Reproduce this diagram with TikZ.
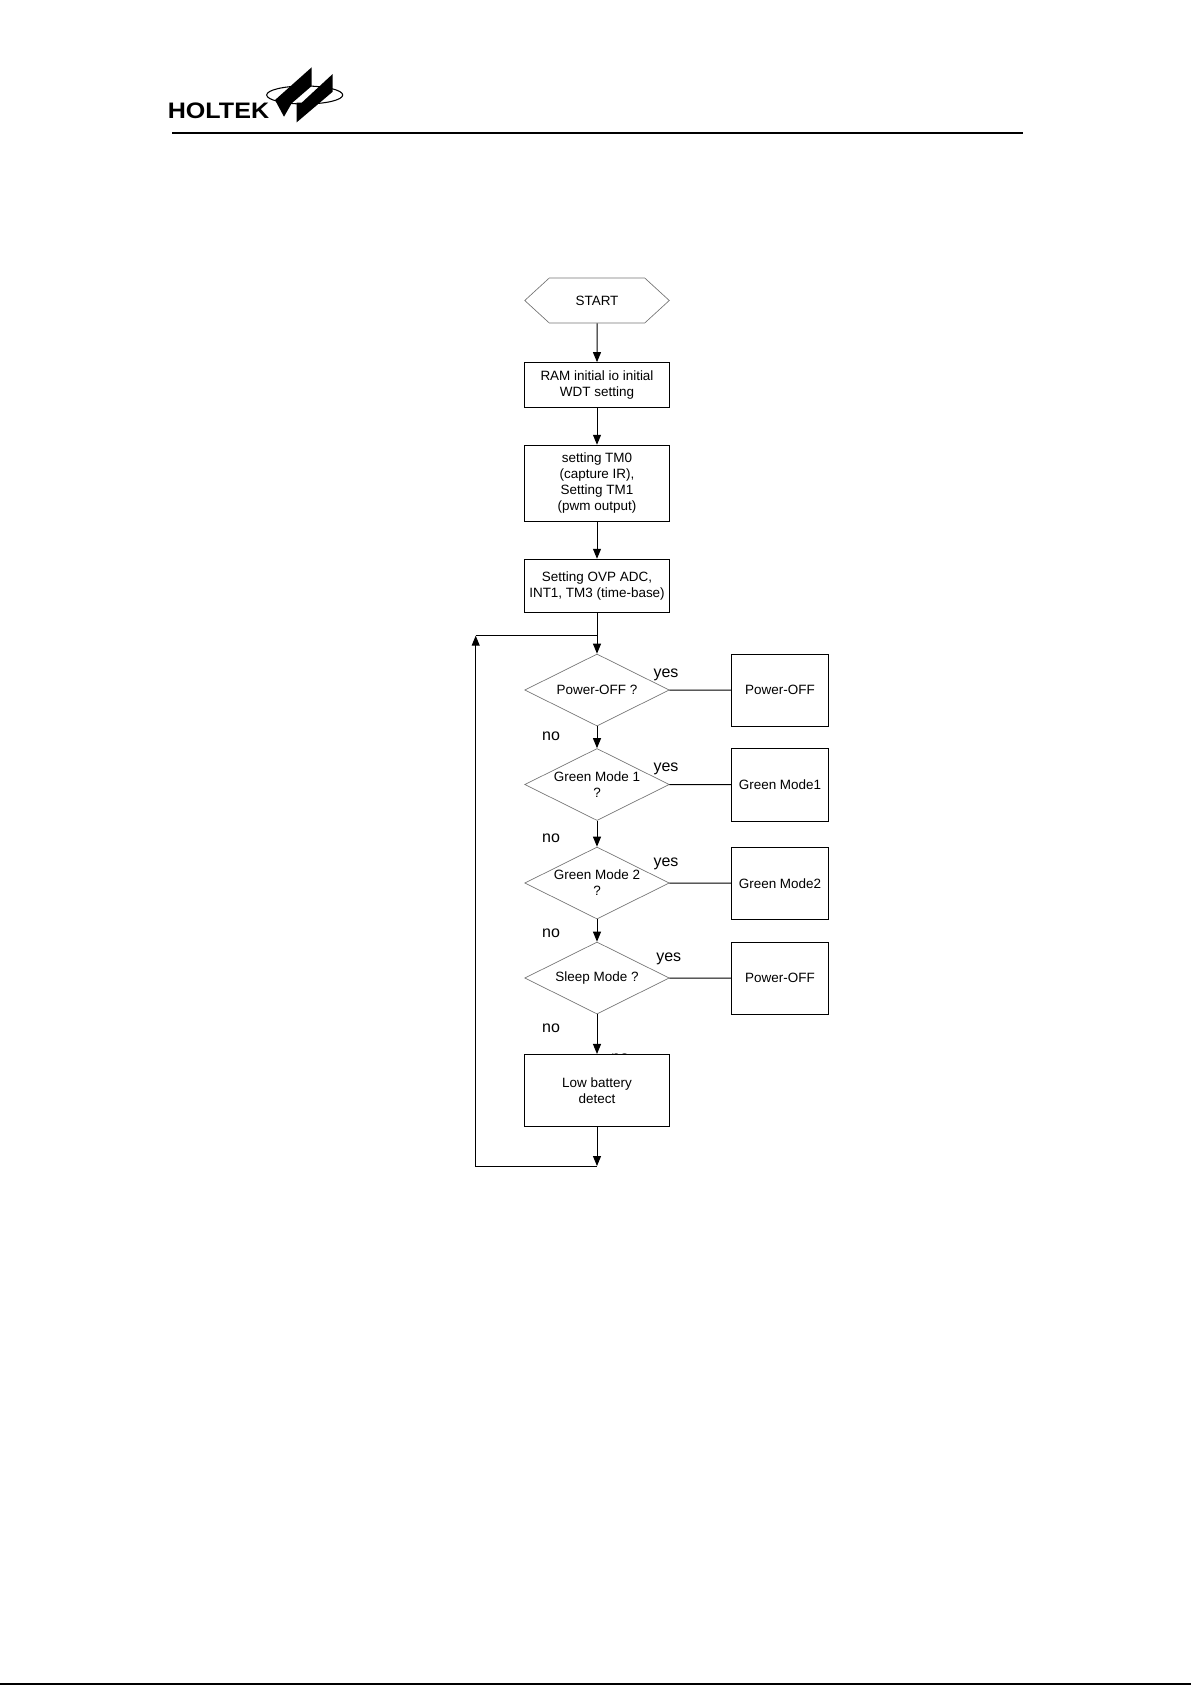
\documentclass[tikz,border=0pt]{standalone}
\usepackage{fontspec}
\setmainfont{Liberation Sans}
\usetikzlibrary{arrows.meta}
\usetikzlibrary{positioning}
\usetikzlibrary{shapes.geometric}
\usetikzlibrary{shapes.symbols}
\begin{document}
\begin{tikzpicture}[x=0.75pt,y=-0.75pt,
  every node/.style={font=\fontsize{10.1}{12}\selectfont,align=center,inner sep=0pt},
  flowbox/.style={draw,line width=0.8pt,fill=white,minimum width=108.75pt},
  sidebox/.style={draw,line width=0.8pt,minimum width=72.75pt,minimum height=54pt},
  decision/.style={draw=black!55,line width=0.5pt,diamond,aspect=2,minimum width=108.4pt,minimum height=54pt},
  terminal/.style={draw=black!55,line width=0.5pt,signal,signal to=east and west,signal pointer angle=85,minimum width=108.4pt,minimum height=33.75pt},
  answer/.style={font=\fontsize{12}{14}\selectfont},
  arrowline/.style={line width=0.75pt,-{Triangle[length=7.5pt,width=6pt]}},
  plainline/.style={line width=0.75pt}]
  \path[use as bounding box] (0,0) rectangle (1191,1685);

  \node (brand) at (218.5,110.5) {\fontsize{16.8}{18}\selectfont\bfseries\scalebox{1.12}[1]{HOLTEK}};
  \draw[line width=0.8pt] (304.7,95) ellipse [x radius=38,y radius=9];
  \fill (311.7,67.3)--(311.7,86)--(291.7,103.3)--(284,116.7)--(275,100)--cycle;
  \fill (332.7,74)--(332.7,91.7)--(296.7,122.3)--(296.7,102.7)--(301.7,102.7)--cycle;
  \draw[line width=1.5pt] (172,132.7)--(1023,132.7);
  \draw[line width=1.5pt] (0,1684)--(1191,1684);

  \node[terminal] (start) at (597,300.5) {START};
  \node[flowbox,minimum height=33.5pt] (ramio) at (597,385) {RAM initial io initial\\WDT setting};
  \node[flowbox,minimum height=57pt] (timers) at (597,483.3) {setting TM0\\(capture IR),\\Setting TM1\\(pwm output)};
  \node[flowbox,minimum height=39.75pt] (ovpadc) at (597,585.8) {Setting OVP ADC,\\INT1, TM3 (time-base)};

  \node[decision] (askoff) at (597,690) {Power-OFF ?};
  \node[decision] (askgreena) at (597,784.5) {Green Mode 1\\?};
  \node[decision] (askgreenb) at (597,883) {Green Mode 2\\?};
  \node[decision] (asksleep) at (597,978) {Sleep Mode ?};

  \node[sidebox] (poweroff) at (780,690.3) {Power-OFF};
  \node[sidebox,minimum height=54.75pt] (greena) at (780,784.8) {Green Mode1};
  \node[sidebox] (greenb) at (780,883.3) {Green Mode2};
  \node[sidebox] (sleepoff) at (780,978.3) {Power-OFF};

  \node[answer] (nohidden) at (620,1058.5) {no};
  \node[flowbox,minimum height=54pt] (lowbat) at (597,1090.5) {Low battery\\detect};

  \node[answer] (yesoff) at (666,674.5) {yes};
  \node[answer] (yesgreena) at (666,769.2) {yes};
  \node[answer] (yesgreenb) at (666,864.2) {yes};
  \node[answer] (yessleep) at (668.7,959.2) {yes};
  \node[answer] (nooff) at (551,736) {no};
  \node[answer] (nogreena) at (551,838) {no};
  \node[answer] (nogreenb) at (551,933) {no};
  \node[answer] (nosleep) at (551,1028) {no};

  \coordinate (loopend) at (597,1166);
  \coordinate (loopleft) at (475.7,1166);
  \coordinate (looptop) at (475.7,635.7);
  \coordinate (loopjoin) at (597,635.7);

  \draw[arrowline] (start)--(ramio);
  \draw[arrowline] (ramio)--(timers);
  \draw[arrowline] (timers)--(ovpadc);
  \draw[arrowline] (ovpadc)--(askoff);
  \draw[arrowline] (askoff)--(askgreena);
  \draw[arrowline] (askgreena)--(askgreenb);
  \draw[arrowline] (askgreenb)--(asksleep);
  \draw[arrowline] (asksleep)--(lowbat);
  \draw[arrowline] (lowbat)--(loopend);
  \draw[arrowline] (loopend)--(loopleft)--(looptop);
  \draw[plainline] (looptop)--(loopjoin);
  \draw[plainline] (askoff)--(poweroff);
  \draw[plainline] (askgreena)--(greena);
  \draw[plainline] (askgreenb)--(greenb);
  \draw[plainline] (asksleep)--(sleepoff);
\end{tikzpicture}
\end{document}
